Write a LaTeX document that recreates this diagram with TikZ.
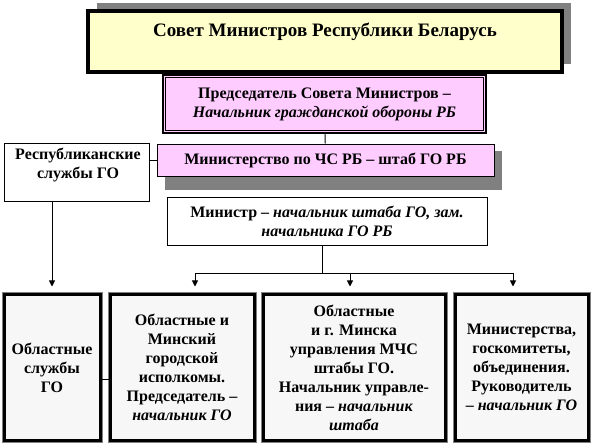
\documentclass[tikz,border=0pt]{standalone}
\usepackage{fontspec}
\setmainfont{Liberation Serif}
\usetikzlibrary{arrows.meta,calc}
\definecolor{TitleClr}{rgb}{1,1,0.8}
\definecolor{PinkClr}{rgb}{1,0.8,1}
\definecolor{ShadowClr}{rgb}{0.5,0.5,0.5}
\definecolor{UnitClr}{rgb}{0.97,0.97,0.97}

\begin{document}
\begin{tikzpicture}[x=1pt,y=-1pt,
  box/.style={draw=black,line width=0.9pt,inner sep=0pt,align=center,
    font=\fontsize{16}{19}\selectfont\bfseries},
  unit/.style={box,fill=UnitClr,line width=3pt,minimum height=145pt,
    preaction={draw=ShadowClr,line width=5pt}},
  link/.style={line width=0.9pt},
  arr/.style={link,-{Triangle[length=6pt,width=6pt]},shorten >=7pt}]
\useasboundingbox (0,0) rectangle (594,443);

\fill[ShadowClr] (97,3) rectangle (571,64);
\node[box,fill=TitleClr,line width=3.5pt,minimum width=474pt,minimum height=61pt] (council) at (325,41.5) {};
\node[font=\fontsize{19}{22}\selectfont\bfseries] (councilTxt) at (325,32) {Совет Министров Республики Беларусь};

\node[box,fill=PinkClr,line width=2pt,minimum width=323pt,minimum height=58pt] (chair) at (324.5,104)
  {Председатель Совета Министров –\\\textit{Начальник гражданской обороны РБ}};
\draw[link] ($(chair.north west)+(3.5,3.5)$) rectangle ($(chair.south east)+(-3.5,-3.5)$);

\fill[ShadowClr] (165,151) rectangle (502,190);
\node[box,fill=PinkClr,minimum width=337pt,minimum height=32pt] (ministry) at (325.5,160)
  {Министерство по ЧС РБ – штаб ГО РБ};

\node[box,fill=white,minimum width=145pt,minimum height=58pt] (republic) at (76.5,172) {};
\node[box,draw=none] (republicTxt) at (78,165) {Республиканские\\службы ГО};

\node[box,fill=white,minimum width=320pt,minimum height=48pt] (minister) at (327,221)
  {Министр – \textit{начальник штаба ГО, зам.}\\\textit{начальника ГО РБ}};

\node[unit,minimum width=96pt] (oblast) at (52,367.5) {Областные\\службы\\ГО};
\node[unit,minimum width=144pt] (city) at (182,367.5)
  {Областные и\\Минский\\городской\\исполкомы.\\Председатель –\\\textit{начальник ГО}};
\node[unit,minimum width=182pt] (mchs) at (354,367.5)
  {Областные\\и г. Минска\\управления МЧС\\штабы ГО.\\Начальник управле-\\ния – \textit{начальник}\\\textit{штаба}};
\node[unit,minimum width=133pt] (branch) at (521.5,367.5)
  {Министерства,\\госкомитеты,\\объединения.\\Руководитель\\– \textit{начальник ГО}};

\coordinate (busL) at (195,273);
\coordinate (busM) at (350,273);
\coordinate (busR) at (513,273);

\draw[link] (chair) -- (ministry);
\draw[link] (ministry.west) -- (ministry.west -| republic.east);
\draw[arr] (republic.south -| oblast) -- (oblast.north);
\draw[link] (minister.south -| 322,0) -- (322,273);
\draw[link] (busL) -- (busR);
\draw[arr] (busL) -- (busL |- city.north);
\draw[arr] (busM) -- (busM |- mchs.north);
\draw[arr] (busR) -- (busR |- branch.north);
\draw[link] ($(oblast.east)+(0,12)$) -- ($(city.west)+(0,12)$);
\end{tikzpicture}
\end{document}
